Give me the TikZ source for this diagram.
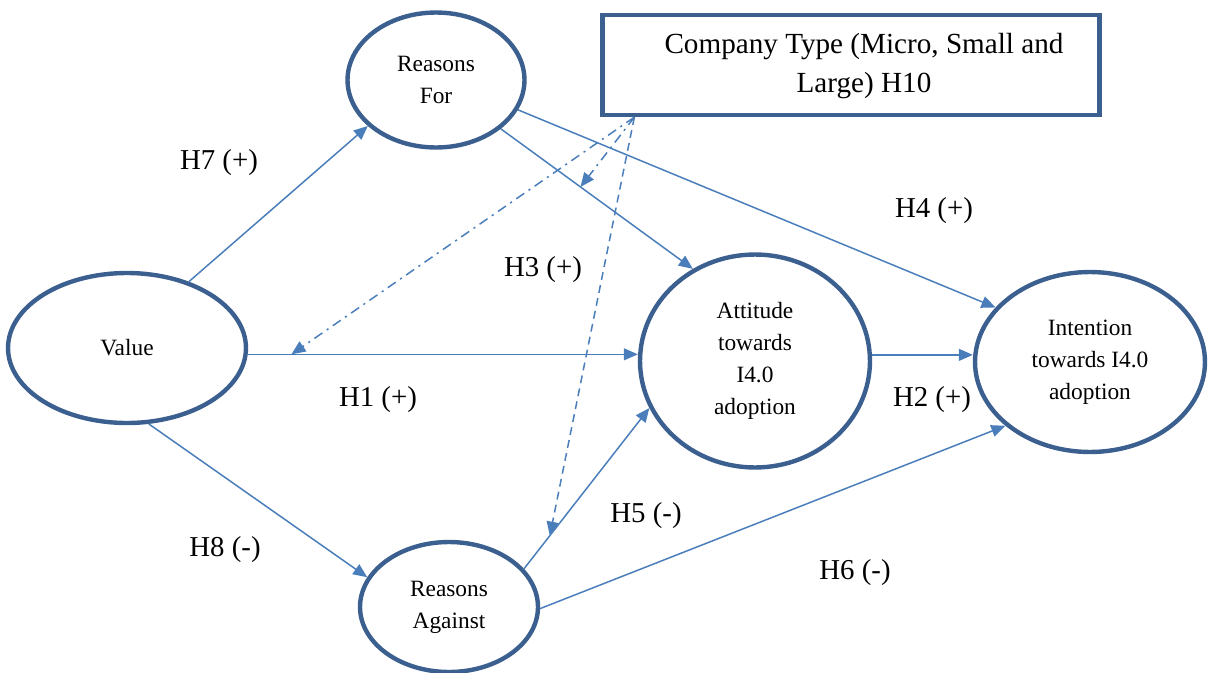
\documentclass[tikz,border=0pt]{standalone}
\usepackage{fontspec}
\setmainfont{Liberation Serif}
\usetikzlibrary{positioning,arrows.meta,shapes.geometric,calc}
\definecolor{ringblue}{RGB}{59,95,143}
\definecolor{lineblue}{RGB}{74,126,187}

\begin{document}
\begin{tikzpicture}[x=0.02cm, y=-0.02cm,
    construct/.style={ellipse, draw=ringblue, line width=2.5pt, inner sep=0pt, align=center, font=\fontsize{13.3}{18.2}\selectfont},
    factor/.style={rectangle, draw=ringblue, line width=2.5pt, inner sep=0pt, font=\fontsize{16.6}{22}\selectfont},
    hyp/.style={font=\fontsize{16.4}{20}\selectfont},
    arrow/.style={draw=lineblue, line width=0.85pt, -{Triangle[length=8pt,width=6.8pt]}},
    moddot/.style={arrow, dash pattern=on 5.5pt off 3pt on 1.2pt off 3pt},
    moddash/.style={arrow, dash pattern=on 4.5pt off 3pt}]

    \useasboundingbox (0,0) rectangle (1208,673);

    \node[construct, minimum width=4.76cm, minimum height=3cm] (value) at (127,348) {\raisebox{-2.5pt}{Value}};
    \node[construct, minimum width=3.54cm, minimum height=2.7cm] (rf) at (436,80) {Reasons\\For};
    \node[construct, minimum width=3.56cm, minimum height=2.6cm] (ra) at (449,607) {Reasons\\Against};
    \node[construct, minimum width=4.6cm, minimum height=4.26cm] (att) at (755,361) {Attitude\\towards\\I4.0\\adoption};
    \node[construct, minimum width=4.6cm, minimum height=3.6cm] (int) at (1090,362) {Intention\\towards I4.0\\adoption};
    \node[factor, minimum width=9.94cm, minimum height=2cm] (box) at (851,65)
        {\hspace*{0.52cm}\raisebox{-2pt}{\begin{tabular}{@{}c@{}}Company Type (Micro, Small and\\Large) H10\end{tabular}}};

    \draw[arrow] (value.47) -- (rf.214);
    \draw[arrow] (value.-3) -- coordinate[pos=0.112] (m1) (value.-3 -| att.west);
    \draw[arrow] (value.-74) -- (ra.160);
    \draw[arrow] (rf.-37) -- coordinate[pos=0.415] (m2) (att.124);
    \draw[arrow] (rf.-20) -- (int.150);
    \draw[arrow] (att.3) -- (att.3 -| int.west);
    \draw[arrow] (ra.27) -- coordinate[pos=0.206] (m3) (att.204);
    \draw[arrow] (ra.-1) -- (int.217);

    % moderating effect
    \coordinate (src) at ($(box.south west)+(34,0)$);
    \draw[moddot] (src) -- (m1);
    \draw[moddot] (src) -- (m2);
    \draw[moddash] (src) -- (m3);

    % Annotations
    \node[hyp] (h7) at (219,163) {H7 (+)};
    \node[hyp] (h3) at (543,270) {H3 (+)};
    \node[hyp] (h4) at (934,211) {H4 (+)};
    \node[hyp] (h1) at (378,400) {H1 (+)};
    \node[hyp] (h2) at (932,400) {H2 (+)};
    \node[hyp] (h5) at (646,516) {H5 (-)};
    \node[hyp] (h6) at (855,573) {H6 (-)};
    \node[hyp] (h8) at (225,550) {H8 (-)};

\end{tikzpicture}
\end{document}
